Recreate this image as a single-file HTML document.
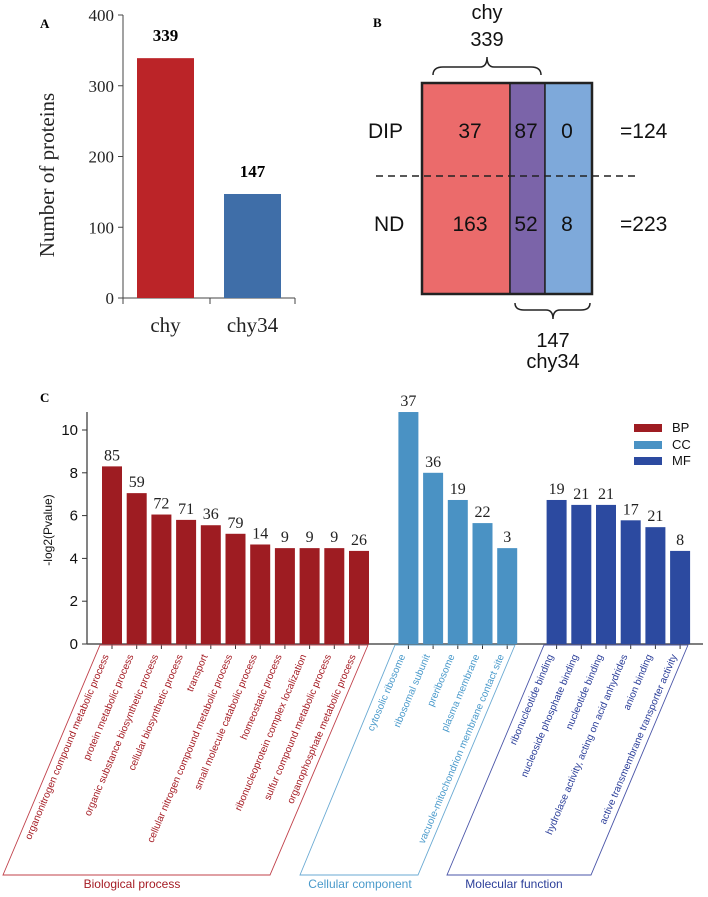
<!DOCTYPE html>
<html><head><meta charset="utf-8"><style>
html,body{margin:0;padding:0;background:#fff;}
svg{display:block;}
.serif{font-family:"Liberation Serif",serif;}
.sans{font-family:"Liberation Sans",sans-serif;}
</style></head><body>
<svg id="fig" width="708" height="897" viewBox="0 0 708 897" xmlns="http://www.w3.org/2000/svg">
<g id="panelA"></g>
<g id="panelB"></g>
<g id="panelC"></g>
</svg>
<script>
// Panel A data
const aCategories = ["chy","chy34"];
const aValues = [339,147];
const aTicks = [0,100,200,300,400];
// Panel B data
const bRows = ["DIP","ND"];
const bDip = [37,87,0];
const bNd = [163,52,8];
const bTotals = ["=124","=223"];
// Panel C data
const bpLabels = ["organonitrogen compound metabolic process","protein metabolic process","organic substance biosynthetic process","cellular biosynthetic process","transport","cellular nitrogen compound metabolic process","small molecule catabolic process","homeostatic process","ribonucleoprotein complex localization","sulfur compound metabolic process","organophosphate metabolic process"];
const bpValues = [8.3,7.05,6.05,5.8,5.55,5.15,4.65,4.48,4.48,4.48,4.35];
const bpCounts = [85,59,72,71,36,79,14,9,9,9,26];
const ccLabels = ["cytosolic ribosome","ribosomal subunit","preribosome","plasma membrane","vacuole-mitochondrion membrane contact site"];
const ccValues = [10.84,8.0,6.73,5.65,4.48];
const ccCounts = [37,36,19,22,3];
const mfLabels = ["ribonucleotide binding","nucleoside phosphate binding","nucleotide binding","hydrolase activity, acting on acid anhydrides","anion binding","active transmembrane transporter activity"];
const mfValues = [6.73,6.5,6.5,5.78,5.46,4.35];
const mfCounts = [19,21,21,17,21,8];
const cTicks = [0,2,4,6,8,10];

const NS="http://www.w3.org/2000/svg";
function mk(parent,tag,attrs,text){const e=document.createElementNS(NS,tag);for(const k in attrs)e.setAttribute(k,attrs[k]);if(text!==undefined)e.textContent=text;parent.appendChild(e);return e;}

// ---------- Panel A ----------
(function(){
const g=document.getElementById('panelA');
const y0=298, yTop=15, maxV=400, ax=123;
const y=v=>y0-(v/maxV)*(y0-yTop);
const colors=["#bb2428","#3f6ea8"];
const bx=[137,224];
let t=mk(g,'text',{x:40,y:28,class:'serif','font-size':13,'font-weight':'bold'},'A');


let l=mk(g,'line',{x1:ax,y1:yTop,x2:ax,y2:y0,stroke:'#444','stroke-width':1});


l=mk(g,'line',{x1:ax,y1:y0,x2:295,y2:y0,stroke:'#444','stroke-width':1});


[ax,210,295].forEach(x=>{mk(g,'line',{x1:x,y1:y0,x2:x,y2:y0+6,stroke:'#444'});});
aTicks.forEach(v=>{
 mk(g,'line',{x1:ax-5,y1:y(v),x2:ax,y2:y(v),stroke:'#444'});
 const tt=mk(g,'text',{x:ax-9,y:y(v)+6,'text-anchor':'end',class:'serif','font-size':17,fill:'#222'},String(v));
 
 
});
const yl=mk(g,'text',{transform:'translate(54,175) rotate(-90)','text-anchor':'middle',class:'serif','font-size':21,fill:'#222'},'Number of proteins');


aValues.forEach((v,i)=>{
 const r=mk(g,'rect',{x:bx[i],y:y(v),width:57,height:y0-y(v),fill:colors[i]});
 
 
 const vl=mk(g,'text',{x:bx[i]+28.5,y:y(v)-17,'text-anchor':'middle',class:'serif','font-size':17,'font-weight':'bold'},String(v));
 
 
 const cl=mk(g,'text',{x:bx[i]+28.5,y:332,'text-anchor':'middle',class:'serif','font-size':21,fill:'#222'},aCategories[i]);
 
 
});
})();

// ---------- Panel B ----------
(function(){
const g=document.getElementById('panelB');
let t=mk(g,'text',{x:373,y:27,class:'serif','font-size':13,'font-weight':'bold'},'B');


const cols=[[422,510,"#eb6b6b"],[510,545,"#7b64a9"],[545,592,"#7ea9da"]];
cols.forEach((c,i)=>{
 const r=mk(g,'rect',{x:c[0],y:83,width:c[1]-c[0],height:211,fill:c[2],stroke:'#222','stroke-width':1.5});
 
 
});
mk(g,'rect',{x:422,y:83,width:170,height:211,fill:'none',stroke:'#222','stroke-width':2.5});
const d=mk(g,'line',{x1:376,y1:176,x2:640,y2:176,stroke:'#222','stroke-width':1.5,'stroke-dasharray':'7,5'});


const cx=[470,526,567];
const rowY=[138,231];
[bDip,bNd].forEach((row,ri)=>{
 const rl=mk(g,'text',{x:ri?374:368,y:rowY[ri],class:'sans','font-size':21,fill:'#111'},bRows[ri]);
 
 
 row.forEach((v,ci)=>{
  const n=mk(g,'text',{x:cx[ci],y:rowY[ri],'text-anchor':'middle',class:'sans','font-size':21,fill:'#111'},String(v));
  
  
 });
 const tl=mk(g,'text',{x:620,y:rowY[ri],class:'sans','font-size':21,fill:'#111'},bTotals[ri]);
 
 
});
const br1=mk(g,'path',{d:'M433,75 Q433,67 443,67 L480,67 Q487,67 487,57 Q487,67 494,67 L531,67 Q541,67 541,75',fill:'none',stroke:'#222','stroke-width':1.5});


const br2=mk(g,'path',{d:'M515,303 Q515,310 524,310 L546,310 Q553,310 553,319 Q553,310 560,310 L581,310 Q590,310 590,303',fill:'none',stroke:'#222','stroke-width':1.5});


[["chy",19],["339",46]].forEach(a=>{const e=mk(g,'text',{x:487,y:a[1],'text-anchor':'middle',class:'sans','font-size':20,fill:'#111'},a[0]);});
[["147",347],["chy34",368]].forEach(a=>{const e=mk(g,'text',{x:553,y:a[1],'text-anchor':'middle',class:'sans','font-size':20,fill:'#111'},a[0]);});
})();

// ---------- Panel C ----------
(function(){
const g=document.getElementById('panelC');
const y0=644, unit=21.4, ax=87, x0=102, slot=24.7, bw=20;
const y=v=>y0-v*unit;
const slotX=s=>x0+s*slot;
let t=mk(g,'text',{x:40,y:402,class:'serif','font-size':13,'font-weight':'bold'},'C');


let l=mk(g,'line',{x1:ax,y1:412,x2:ax,y2:y0,stroke:'#333','stroke-width':1.2});


l=mk(g,'line',{x1:ax,y1:y0,x2:703,y2:y0,stroke:'#555','stroke-width':1.5});


cTicks.forEach(v=>{
 mk(g,'line',{x1:ax-5,y1:y(v),x2:ax,y2:y(v),stroke:'#333'});
 const e=mk(g,'text',{x:ax-9,y:y(v)+5,'text-anchor':'end',class:'sans','font-size':15,fill:'#111'},String(v));
 
 
});
const yt=mk(g,'text',{transform:'translate(52,530) rotate(-90)','text-anchor':'middle',class:'sans','font-size':12,fill:'#111'},'-log2(Pvalue)');


const groups=[
 {key:'bp',labels:bpLabels,values:bpValues,counts:bpCounts,start:0,fill:'#9e1c22',txt:'#a51c24'},
 {key:'cc',labels:ccLabels,values:ccValues,counts:ccCounts,start:12,fill:'#4a92c4',txt:'#4a9acb'},
 {key:'mf',labels:mfLabels,values:mfValues,counts:mfCounts,start:18,fill:'#2c4aa0',txt:'#2b3e99'}];
groups.forEach(gr=>{
 gr.values.forEach((v,i)=>{
  const x=slotX(gr.start+i);
  const r=mk(g,'rect',{x:x,y:y(v),width:bw,height:y0-y(v),fill:gr.fill});
  
  
  const c=mk(g,'text',{x:x+bw/2,y:y(v)-6,'text-anchor':'middle',class:'serif','font-size':16,fill:'#222'},String(gr.counts[i]));
  
  
  mk(g,'line',{x1:x+bw/2,y1:y0,x2:x+bw/2,y2:y0+5,stroke:'#333','stroke-width':1});
  const tx=x+bw/2-3, ty=656;
  const lb=mk(g,'text',{transform:'translate('+tx+','+ty+') rotate(-67)','text-anchor':'end',class:'sans','font-size':10,fill:gr.txt},gr.labels[i]);
  
  
 });
});
const polys=[
 ['100,645 368,645 270,875 3,875','#c0404a','Biological process',132,'#a51c24','bp-group-outline'],
 ['395,645 515,645 418,875 300,875','#6aaad3','Cellular component',360,'#4a9acb','cc-group-outline'],
 ['544,645 688,645 591,875 447,875','#4a55a8','Molecular function',514,'#2b3e99','mf-group-outline']];
polys.forEach(p=>{
 const pg=mk(g,'polygon',{points:p[0],fill:'none',stroke:p[1],'stroke-width':0.9});
 
 
 const tt=mk(g,'text',{x:p[3],y:888,'text-anchor':'middle',class:'sans','font-size':12,fill:p[4]},p[2]);
 
 
});
[['BP','#9e1c22',424],['CC','#4a92c4',441],['MF','#2c4aa0',457]].forEach(L=>{
 const s=mk(g,'rect',{x:634,y:L[2],width:28,height:8,fill:L[1]});
 
 
 const tt=mk(g,'text',{x:672,y:L[2]+8,class:'sans','font-size':13,fill:'#111'},L[0]);
 
 
});
})();
</script>
</body></html>
